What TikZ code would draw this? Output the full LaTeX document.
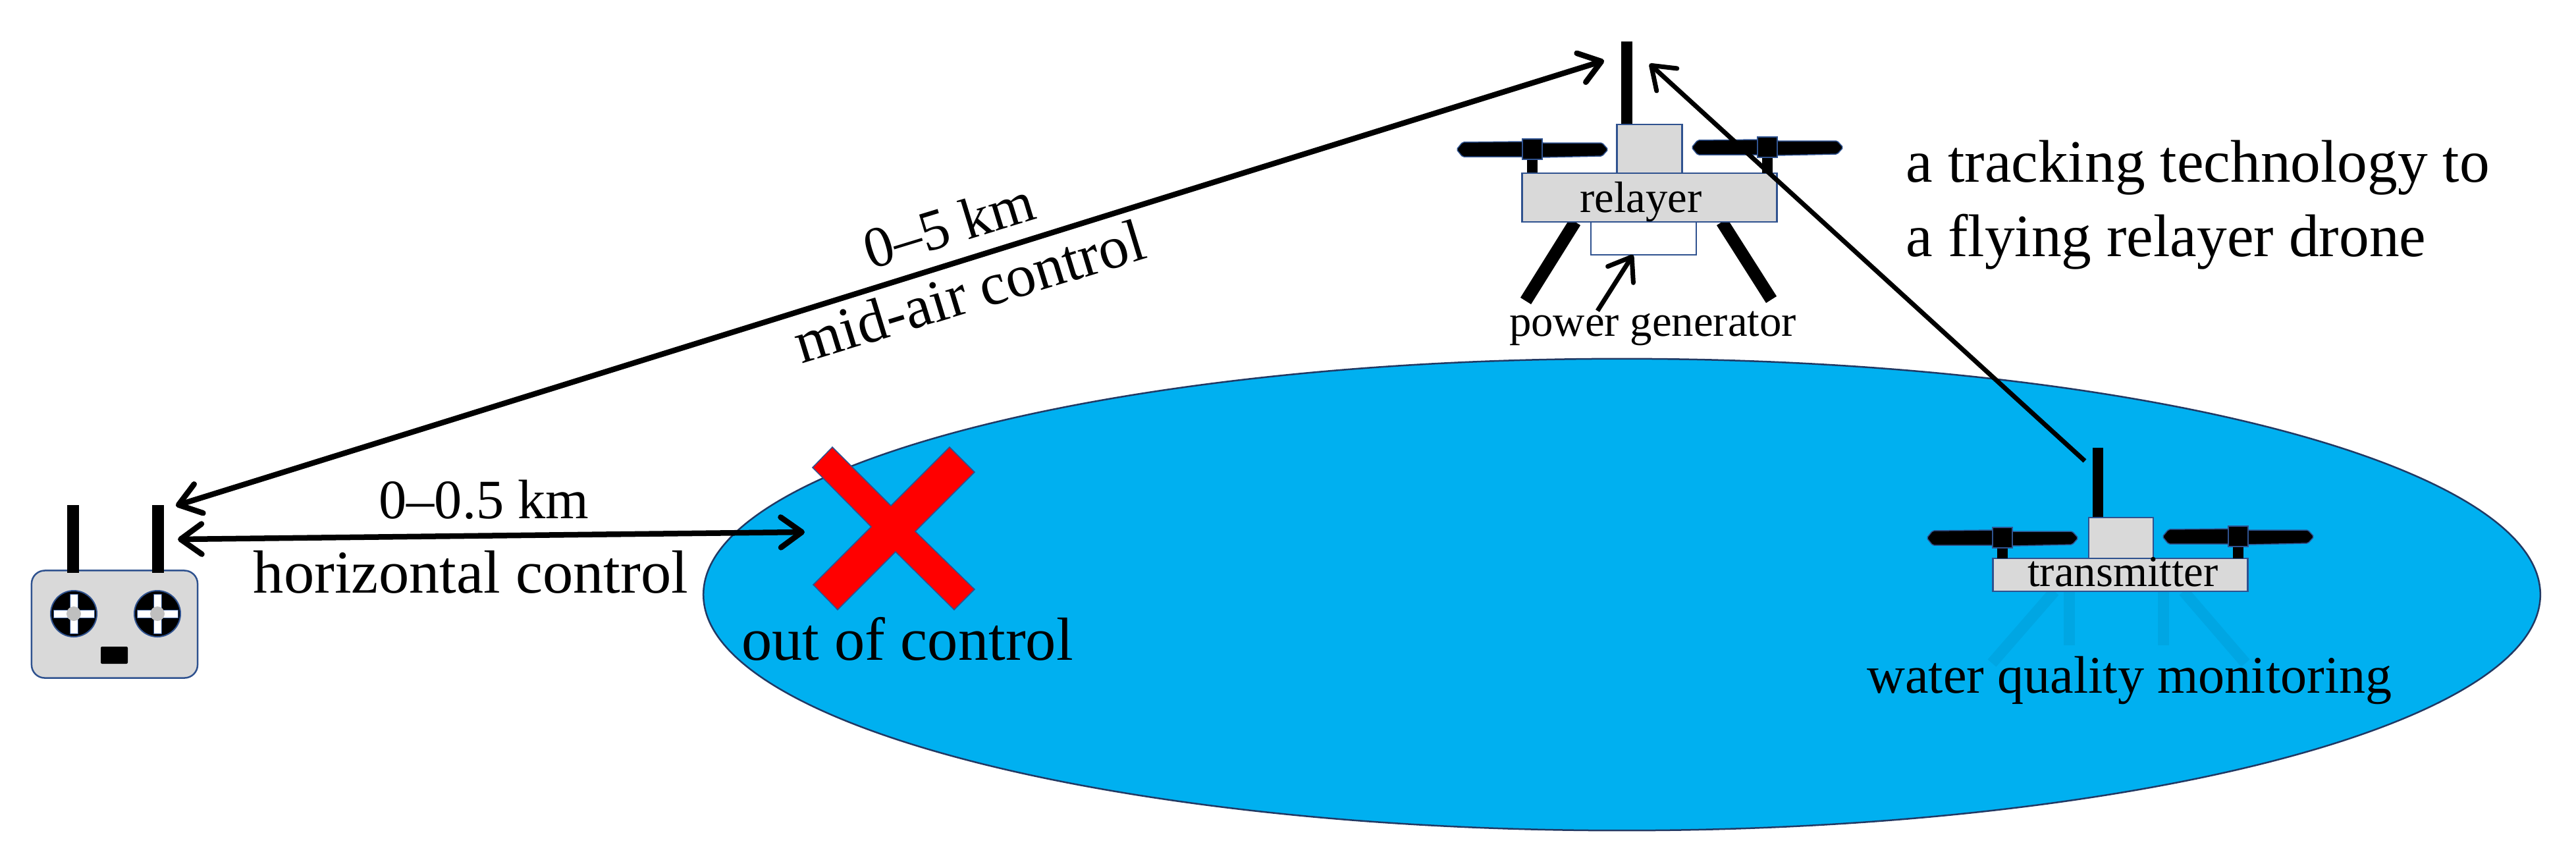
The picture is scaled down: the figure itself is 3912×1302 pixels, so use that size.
\documentclass[tikz,border=0pt]{standalone}
\usepackage{fontspec}
\setmainfont{Liberation Serif}
\usetikzlibrary{arrows.meta,shapes.geometric}
\definecolor{lakeblue}{HTML}{00B0F0}
\definecolor{legblue}{HTML}{00A6E3}
\definecolor{edgeblue}{HTML}{2F528F}
\definecolor{boxgrey}{HTML}{D9D9D9}
\tikzset{
  greybox/.style={draw=edgeblue,fill=boxgrey,line width=0.025cm,inner sep=0pt},
  antenna/.style={line width=0.17cm},
  legline/.style={line width=0.19cm},
  waterleg/.style={line width=0.17cm,legblue},
  linkarrow/.style={line width=0.085cm,{Straight Barb[length=0.32cm,width=0.46cm,round]}-{Straight Barb[length=0.32cm,width=0.46cm,round]}},
  onearrow/.style={line width=0.07cm,-{Straight Barb[length=0.32cm,width=0.46cm,round]}},
  bigtext/.style={inner sep=0pt,anchor=base,font=\fontsize{26.3}{32}\selectfont},
  smalltext/.style={inner sep=0pt,anchor=base,font=\fontsize{19}{23}\selectfont}
}
\newcommand{\rotor}[3]{
\begin{scope}[shift={(#1,#2)}]
\fill[black,draw=edgeblue,line width=0.015cm,rounded corners=0.02cm] (-115,0) -- (-106,-11) -- (-15,-12) -- (15,-10) -- (106,-10) -- (115,0) -- (106,10) -- (15,12) -- (-15,11) -- (-106,11) -- cycle;
\fill[black] (-8,15) rectangle (8,#3);
\fill[black,draw=edgeblue,line width=0.015cm] (-15,-16) rectangle (15,15);
\end{scope}
}
\begin{document}
\begin{tikzpicture}[x=0.01cm,y=-0.01cm]
\useasboundingbox (0,0) rectangle (3912,1302);
\node[ellipse,draw=edgeblue!70!black,fill=lakeblue,line width=0.025cm,inner sep=0pt,minimum width=27.88cm,minimum height=7.16cm] (lake) at (2463,903) {};

\node[greybox,rounded corners=0.2cm,minimum width=2.52cm,minimum height=1.63cm] (remote) at (174,948) {};
\draw[antenna] (111,767) -- (111,870);
\draw[antenna] (240,767) -- (240,870);
\foreach \x in {112,239}{
\fill[black,draw=edgeblue,line width=0.02cm] (\x,932) circle (35);
\fill[white,draw=edgeblue,line width=0.01cm] (\x-6,902) -- (\x+6,902) -- (\x+6,926) -- (\x+31,926) -- (\x+31,938) -- (\x+6,938) -- (\x+6,962) -- (\x-6,962) -- (\x-6,938) -- (\x-31,938) -- (\x-31,926) -- (\x-6,926) -- cycle;
\fill[black!25] (\x,932) circle (11);
}
\fill[black,rounded corners=0.02cm] (153,982) rectangle (194,1008);

\draw[legline] (2392,337) -- (2317,457);
\draw[legline] (2615,337) -- (2690,455);
\node[draw=edgeblue,fill=white,line width=0.02cm,inner sep=0pt,minimum width=1.59cm,minimum height=0.5cm] (generator) at (2496,362) {};
\draw[antenna] (2470,63) -- (2470,188);
\node[greybox,minimum width=0.99cm,minimum height=0.74cm] (relayertop) at (2505,226) {};
\node[greybox,minimum width=3.87cm,minimum height=0.74cm] (relayerbody) at (2505,300) {};
\rotor{2327}{227}{35}
\rotor{2684}{224}{39}
\node[smalltext] (relayerlabel) at (2492,322) {relayer};
\node[smalltext] (generatorlabel) at (2510,510) {power generator};

\foreach \a/\b in {3120/3025,3142/3142,3285/3285,3316/3410}{
\draw[waterleg] (\a,898) -- (\b,{\a==\b ? 980 : 1007});
}
\draw[line width=0.16cm] (3186,680) -- (3186,785);
\node[greybox,minimum width=0.98cm,minimum height=0.62cm] (transmittertop) at (3221,817) {};
\node[greybox,minimum width=3.87cm,minimum height=0.5cm] (transmitterbody) at (3220,873) {};
\rotor{3041}{817}{31}
\rotor{3399}{815}{33}
\node[smalltext] (transmitterlabel) at (3224,890) {transmitter};

\fill[red,draw=edgeblue,line width=0.015cm] (1264,679) -- (1353,768) -- (1442,679) -- (1480,717) -- (1390,807) -- (1480,895) -- (1449,926) -- (1360,838) -- (1272,926) -- (1235,888) -- (1323,800) -- (1234,710) -- cycle;

\coordinate (remotetop) at (267,768);
\coordinate (relayerleft) at (2436,92);
\coordinate (remotemid) at (270,819);
\coordinate (crossleft) at (1222,808);
\coordinate (transmitteraerial) at (3166,700);
\coordinate (relayerright) at (2505,97);
\coordinate (generatorfoot) at (2426,472);
\coordinate (generatorbase) at (2480,387);
\draw[linkarrow] (remotetop) -- (relayerleft);
\draw[linkarrow] (remotemid) -- (crossleft);
\draw[onearrow] (transmitteraerial) -- (relayerright);
\draw[onearrow] (generatorfoot) -- (generatorbase);

\node[bigtext,anchor=center,rotate=17,font=\fontsize{25}{30}\selectfont] (farlabel) at (1441,342) {0--5 km};
\node[bigtext,anchor=center,rotate=17,font=\fontsize{26}{32}\selectfont] (midairlabel) at (1472,442) {mid-air control};
\node[bigtext,font=\fontsize{24}{30}\selectfont] (nearlabel) at (735,787) {0--0.5 km};
\node[bigtext] (horizontallabel) at (715,900) {horizontal control};
\node[bigtext] (outlabel) at (1378,1002) {out of control};
\node[bigtext,font=\fontsize{22.8}{28}\selectfont] (waterlabel) at (3234,1052) {water quality monitoring};
\node[bigtext,anchor=base west,font=\fontsize{26}{32}\selectfont] (trackingone) at (2894,276) {a tracking technology to};
\node[bigtext,anchor=base west,font=\fontsize{26}{32}\selectfont] (trackingtwo) at (2894,389) {a flying relayer drone};
\end{tikzpicture}
\end{document}
